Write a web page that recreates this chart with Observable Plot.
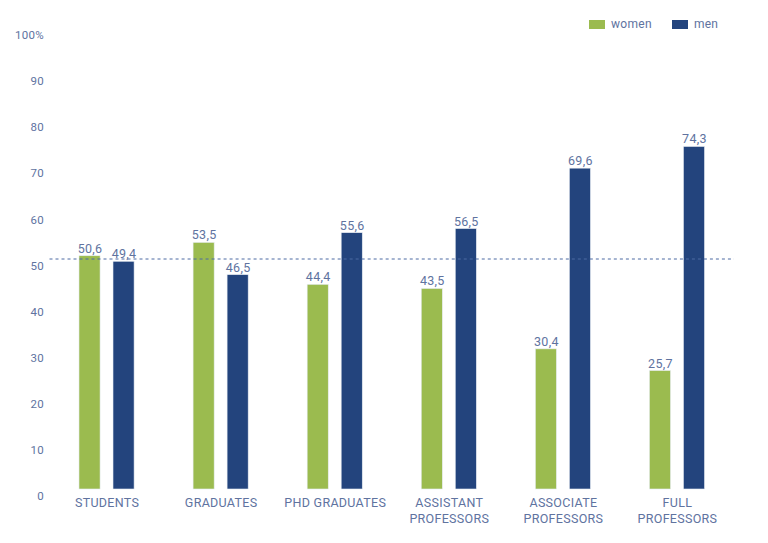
<!DOCTYPE html>
<html>
<head>
<meta charset="utf-8">
<script src="https://cdn.jsdelivr.net/npm/d3@7"></script>
<script src="https://cdn.jsdelivr.net/npm/@observablehq/plot@0.6"></script>
<style>
  html, body { margin: 0; padding: 0; background: #ffffff; }
  #wrap { position: relative; width: 768px; height: 543px; font-family: Roboto, sans-serif; }
  #legend { position: absolute; top: 17px; left: 589px; display: flex; gap: 20px; font-size: 12px; color: #60739f; letter-spacing: 0.3px; }
  #legend span.item { display: flex; align-items: center; gap: 6px; }
  #legend span.sw { width: 16px; height: 9px; display: inline-block; }
  svg text { letter-spacing: 0.3px; }
</style>
</head>
<body>
<div id="wrap">
  <div id="legend"></div>
</div>
<script>
const categories = ["STUDENTS", "GRADUATES", "PHD GRADUATES", "ASSISTANT\nPROFESSORS", "ASSOCIATE\nPROFESSORS", "FULL\nPROFESSORS"];
const series = ["women", "men"];
const women = [50.6, 53.5, 44.4, 43.5, 30.4, 25.7];
const men = [49.4, 46.5, 55.6, 56.5, 69.6, 74.3];
const yTicks = [0, 10, 20, 30, 40, 50, 60, 70, 80, 90, 100];
const parity = [50];
const colors = ["#9bbb4f", "#23447d"];
const textColor = "#60739f";

const data = [];
categories.forEach((c, i) => {
  data.push({category: c, sex: "women", value: women[i]});
  data.push({category: c, sex: "men", value: men[i]});
});

const fmt = v => v.toFixed(1).replace(".", ",");

const chart = Plot.plot({
  width: 768,
  height: 543,
  marginLeft: 49.5,
  marginRight: 34,
  marginTop: 28,
  marginBottom: 54,
  style: {fontFamily: "Roboto, sans-serif", color: textColor, background: "transparent"},
  fx: {domain: categories, paddingInner: 0, paddingOuter: 0, round: false, label: null},
  x: {domain: series, paddingInner: 0.38, paddingOuter: 0.867, round: false, axis: null},
  y: {domain: [0, 100], axis: null},
  color: {domain: series, range: colors},
  marks: [
    Plot.axisY({ticks: yTicks, tickSize: 0, tickPadding: 6, dy: 7, fontSize: 11.5, label: null,
      tickFormat: d => d === 100 ? "100%" : String(d), fill: textColor}),
    Plot.axisFx({anchor: "bottom", tickSize: 0, tickPadding: 6, fontSize: 12.5, lineHeight: 1.3, label: null, fill: textColor}),
    Plot.barY(data, {fx: "category", x: "sex", y: "value", fill: "sex", stroke: "#e8edf3", strokeWidth: 0.6}),
    Plot.ruleY(parity, {stroke: "#4d6aa3", strokeWidth: 1, strokeDasharray: "3,3"}),
    Plot.text(data, {fx: "category", x: "sex", y: "value", text: d => fmt(d.value), dy: -7.5, fontSize: 12.5, fill: textColor})
  ]
});
document.getElementById("wrap").prepend(chart);

const legend = document.getElementById("legend");
series.forEach((s, i) => {
  const item = document.createElement("span");
  item.className = "item";
  const sw = document.createElement("span");
  sw.className = "sw";
  sw.style.background = colors[i];
  item.appendChild(sw);
  item.appendChild(document.createTextNode(s));
  legend.appendChild(item);
});
</script>
</body>
</html>
